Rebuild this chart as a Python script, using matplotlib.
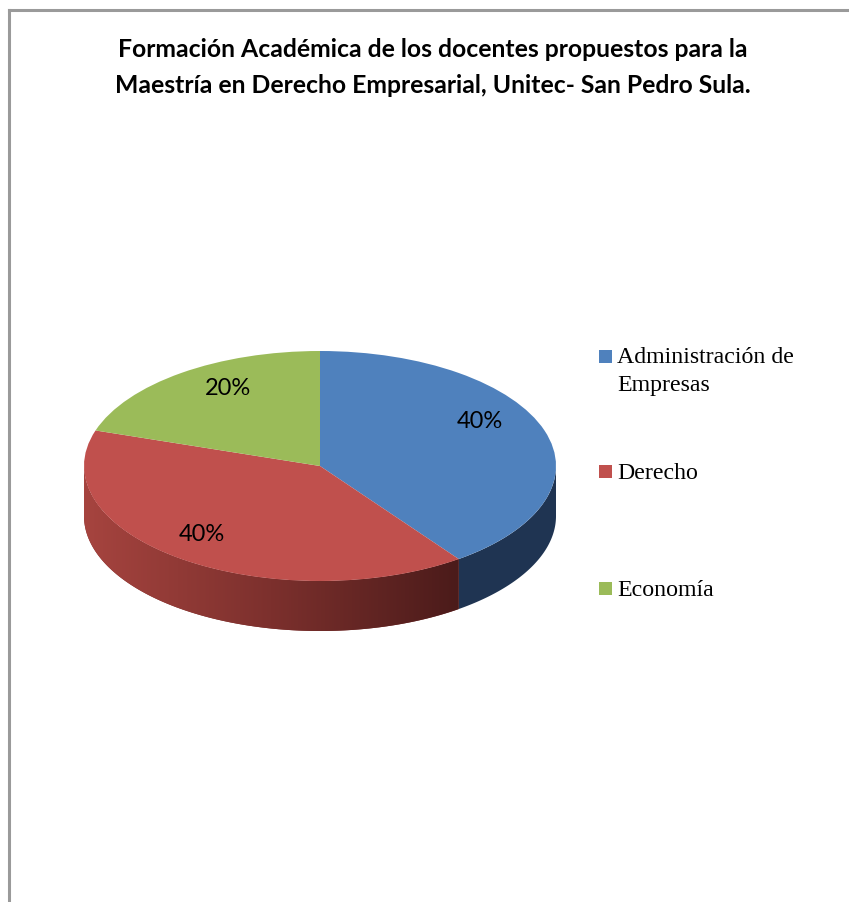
import numpy as np
import matplotlib
matplotlib.use("Agg")
import matplotlib.pyplot as plt
from matplotlib.patches import Polygon, Rectangle
from matplotlib.lines import Line2D
from matplotlib.colors import LinearSegmentedColormap

# ---------------- data ----------------
title_lines = ["Formación Académica de los docentes propuestos para la",
               "Maestría en Derecho Empresarial, Unitec- San Pedro Sula."]
categories = ["Administración de\nEmpresas", "Derecho", "Economía"]
values = [40, 40, 20]
top_colors = ["#4f81bd", "#c0504d", "#9bbb59"]
side_colors = ["#1f3452", "#7a2e2c", "#5d7135"]
red_side_gradient = ["#a6443f", "#7c302d", "#4b1b1a"]

# ---------------- figure ----------------
W, H = 849, 902
fig = plt.figure(figsize=(W / 100, H / 100), dpi=100)


def box(x0, y0, x1, y1):
    return [x0 / W, 1 - y1 / H, (x1 - x0) / W, (y1 - y0) / H]


# chart frame (grey border at top and left)
fig.add_artist(Line2D([9 / W, 9 / W], [0, 1 - 10 / H], transform=fig.transFigure,
                      color="#9a9a9a", lw=2.2))
fig.add_artist(Line2D([9 / W, 1], [1 - 10 / H, 1 - 10 / H], transform=fig.transFigure,
                      color="#9a9a9a", lw=2.2))

# title (two lines)
for j, line in enumerate(title_lines):
    fig.text(433 / W, 1 - (57 + 36 * j) / H, line, ha="center", va="baseline",
             fontsize=17.8, fontweight="bold", family="Lato", color="#000000")

# pie axes: top ellipse spans x 84..556, y 351..581, depth 50 px
ax = fig.add_axes(box(84, 351, 556, 631))
depth = 50 / 115.0

total = float(sum(values))
fr = np.array(values) / total
starts = 90 - 360 * np.concatenate([[0], np.cumsum(fr)[:-1]])
ends = starts - 360 * fr

# side walls (front half only)
cmap = LinearSegmentedColormap.from_list("redside", red_side_gradient)
for i, (s, e) in enumerate(zip(starts, ends)):
    lo, hi = e, s
    for k in (-1, 0, 1):
        a = max(lo + 360 * k, -180)
        b = min(hi + 360 * k, 0)
        if b <= a:
            continue
        t = np.radians(np.linspace(a, b, 200))
        top = np.column_stack([np.cos(t), np.sin(t)])
        bot = np.column_stack([np.cos(t), np.sin(t) - depth])[::-1]
        poly = Polygon(np.vstack([top, bot]), closed=True, facecolor=side_colors[i],
                       edgecolor="none", zorder=0.5)
        ax.add_patch(poly)
        if i == 1:
            x0, x1 = np.cos(t).min(), np.cos(t).max()
            y0, y1 = (np.sin(t) - depth).min(), np.sin(t).max()
            grad = np.linspace(0, 1, 256).reshape(1, -1)
            im = ax.imshow(grad, cmap=cmap, extent=[x0, x1, y0, y1], aspect="auto",
                           zorder=0.6, interpolation="bilinear")
            im.set_clip_path(poly)

wedges, texts, autotexts = ax.pie(
    values, colors=top_colors, startangle=90, counterclock=False,
    radius=1, center=(0, 0), autopct="%1.0f%%", pctdistance=0.78,
    wedgeprops=dict(linewidth=0, zorder=2),
    textprops=dict(fontsize=17, family="Lato", color="#000000"))
for w in wedges:
    w.set_zorder(2)

# label placement as in the 3-D projection (angular shift of each label)
label_shift = [12, -4, -6]
for i, t in enumerate(autotexts):
    mid = np.radians((starts[i] + ends[i]) / 2 + label_shift[i])
    t.set_position((0.78 * np.cos(mid), 0.78 * np.sin(mid)))
    t.set_zorder(3)

ax.set_aspect("auto")
ax.set_xlim(-1, 1)
ax.set_ylim(-1 - depth, 1)
ax.axis("off")

# legend (manual)
leg_sq_top = [350, 465, 582]
leg_baseline = [363, 479, 596]
for i, lab in enumerate(categories):
    fig.add_artist(Rectangle((599 / W, 1 - (leg_sq_top[i] + 13) / H), 13 / W, 13 / H,
                             transform=fig.transFigure, facecolor=top_colors[i],
                             edgecolor="none"))
    for j, line in enumerate(lab.split("\n")):
        fig.text(617 / W, 1 - (leg_baseline[i] + 28 * j) / H, line, ha="left",
                 va="baseline", fontsize=17.2, family="Liberation Serif",
                 color="#000000")

fig.savefig("out.png", dpi=100)
